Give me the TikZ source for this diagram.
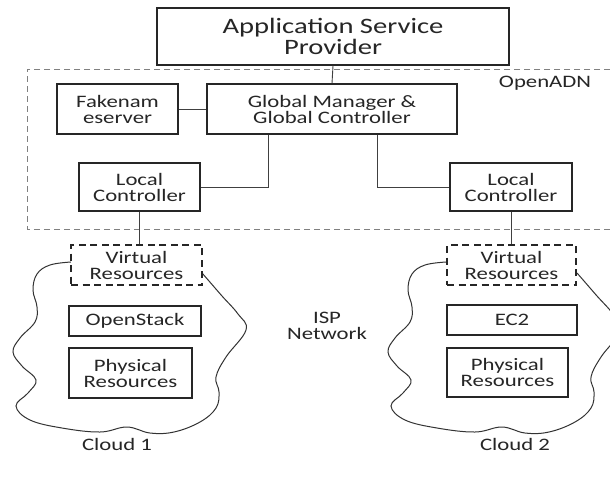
\documentclass[tikz,border=0pt]{standalone}
\usepackage{fontspec}
\setmainfont[FakeStretch=1.3]{Carlito}
\begin{document}
\begin{tikzpicture}[x=1pt,y=-1pt,
  ink/.style={black!85},
  box/.style={draw=black!85, line width=1.4pt, fill=white, inner sep=0pt,
    align=center, text=black!85, font=\fontsize{17.5}{16}\selectfont},
  vbox/.style={box, dash pattern=on 7pt off 4.5pt, line width=1.4pt},
  wire/.style={draw=black!75, line width=0.9pt},
  cloudline/.style={draw=black!80, line width=1pt},
  label/.style={text=black!85, font=\fontsize{17.5}{16}\selectfont, align=center}]

\clip (0,0) rectangle (610,477);
\fill[white] (0,0) rectangle (610,477);

% OpenADN domain (open to the right)
\draw[black!50, line width=1pt, dash pattern=on 6pt off 4pt] (630,69) -- (27,69) -- (27,229) -- (630,229);
\node[label] (adn) at (545,83) {OpenADN};

% cloud outlines
\def\cloudpath{plot[smooth, tension=0.65] coordinates {
  (71,262) (50,265) (37,274) (33,290) (37,307) (35,322) (20,338) (13,352)
  (22,366) (36,380) (28,393) (16,406) (30,420) (62,428) (100,432) (127,427)
  (150,433) (174,432) (200,422) (216,408) (219,392) (216,377) (226,357)
  (246,330) (238,314) (222,296) (209,281) (202,273)}}
\draw[cloudline] \cloudpath;
\begin{scope}[shift={(375,0)}]
  \draw[cloudline] \cloudpath;
\end{scope}

% boxes
\node[box, minimum width=352pt, minimum height=57pt, font=\fontsize{22}{21.5}\selectfont]
  (asp) at (333,36.5) {Application Service\\Provider};
\node[box, minimum width=121pt, minimum height=50pt] (fake) at (117.5,109) {Fakenam\\eserver};
\node[box, minimum width=250pt, minimum height=50pt] (gm) at (332,109) {Global Manager \&\\Global Controller};
\node[box, minimum width=121pt, minimum height=48pt] (lcl) at (139.5,187) {Local\\Controller};
\node[box, minimum width=122pt, minimum height=48pt] (lcr) at (511,187) {Local\\Controller};

\node[vbox, minimum width=131pt, minimum height=40pt] (vrl) at (136.5,265) {Virtual\\Resources};
\node[vbox, minimum width=129pt, minimum height=40pt] (vrr) at (511.5,265) {Virtual\\Resources};

\node[box, minimum width=132pt, minimum height=30pt] (osk) at (135,321) {OpenStack};
\node[box, minimum width=123pt, minimum height=50pt] (prl) at (130.5,373) {Physical\\Resources};
\node[box, minimum width=130pt, minimum height=30pt] (ec2) at (512,320) {EC2};
\node[box, minimum width=121pt, minimum height=49pt] (prr) at (507.5,372.5) {Physical\\Resources};

% connectors
\draw[wire] (asp.south) -- (gm.north);
\draw[wire] (fake.east) -- (gm.west);
\draw[wire] ([xshift=-64pt]gm.south) |- (lcl.east);
\draw[wire] ([xshift=45pt]gm.south) |- (lcr.west);
\draw[wire] (lcl.south) -- (lcl.south |- vrl.north);
\draw[wire] (lcr.south) -- (lcr.south |- vrr.north);

% free labels
\node[label] (isp) at (327,326) {ISP\\Network};
\node[label] (c1) at (117,444) {Cloud 1};
\node[label] (c2) at (515,444) {Cloud 2};
\end{tikzpicture}
\end{document}
